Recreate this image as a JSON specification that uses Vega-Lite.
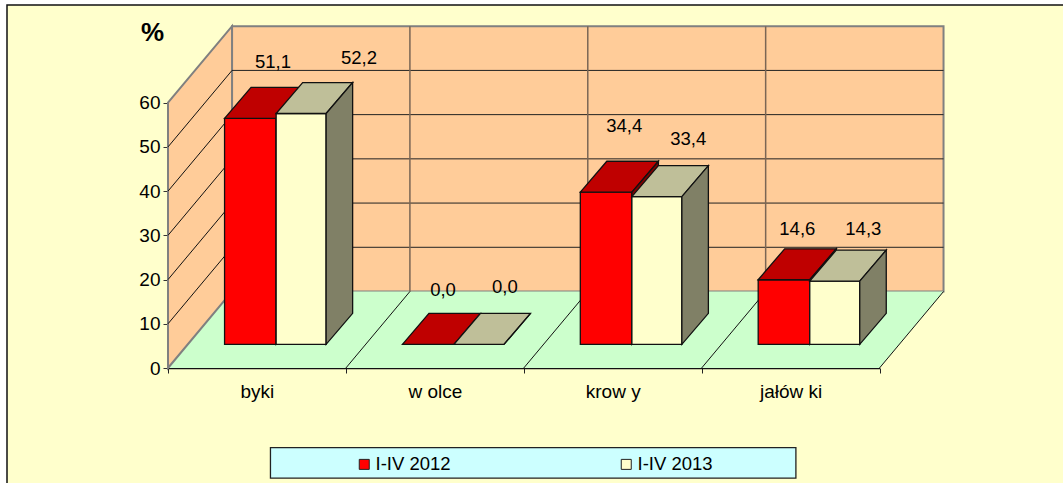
{
"$schema":"https://vega.github.io/schema/vega-lite/v6.json",
"autosize":{"type":"none"},
"width":1057,"height":479,
"padding":{"left":7,"top":5,"right":0,"bottom":0},
"background":"#FFFFFF",
"view":{"fill":"#FFFFCC","stroke":"#111111","strokeWidth":1.5},
"config":{"font":"Liberation Sans"},
"datasets":{
"dane":[
{"kategoria":"byki","etykieta":"byki","seria":"I-IV 2012","wartosc":51.1},
{"kategoria":"byki","etykieta":"byki","seria":"I-IV 2013","wartosc":52.2},
{"kategoria":"wolce","etykieta":"w olce","seria":"I-IV 2012","wartosc":0.0},
{"kategoria":"wolce","etykieta":"w olce","seria":"I-IV 2013","wartosc":0.0},
{"kategoria":"krowy","etykieta":"krow y","seria":"I-IV 2012","wartosc":34.4},
{"kategoria":"krowy","etykieta":"krow y","seria":"I-IV 2013","wartosc":33.4},
{"kategoria":"jałówki","etykieta":"jałów ki","seria":"I-IV 2012","wartosc":14.6},
{"kategoria":"jałówki","etykieta":"jałów ki","seria":"I-IV 2013","wartosc":14.3}
],
"poziomy":[{"p":10},{"p":20},{"p":30},{"p":40},{"p":50},{"p":60}],
"granice":[{"k":1},{"k":2},{"k":3}]
},
"resolve":{"scale":{"x":"independent"}},
"layer":[
{"data":{"values":[{"w":0}]},
 "mark":{"type":"rect","fill":"#FFCC99","stroke":"#808080","strokeWidth":2},
 "encoding":{
  "x":{"datum":0.36,"type":"quantitative","scale":{"domain":[0,4],"range":[161,872.5],"zero":false,"nice":false},"axis":null},
  "x2":{"datum":4.36},
  "y":{"datum":17.3,"type":"quantitative","scale":{"domain":[0,60],"range":[363,97.7],"zero":false,"nice":false},
   "axis":{"title":"%","titleAngle":0,"titleFontSize":26,"titleFontWeight":"bold","titleFont":"Liberation Sans","titleColor":"#000000","titleX":-16,"titleY":27,"titleAlign":"center","titleBaseline":"middle","values":[0,10,20,30,40,50,60],"offset":-161,"grid":false,"domain":false,"tickSize":5,"tickColor":"#333333","labelFontSize":19,"labelFont":"Liberation Sans","labelColor":"#000000","labelPadding":3,"labelOverlap":false,"labelFlush":false}},
  "y2":{"datum":77.3}}},
{"data":{"values":[{"w":0},{"w":1},{"w":2},{"w":3}]},
 "transform":[
  {"calculate":"[0,0.36,4,4.36][datum.w]","as":"gx"},
  {"calculate":"[0,17.3,17.3,17.3][datum.w]","as":"gy"},
  {"calculate":"[0,0,0,17.3][datum.w]","as":"gy2"}],
 "mark":{"type":"area","fill":"#CCFFCC","stroke":null},
 "encoding":{
  "x":{"field":"gx","type":"quantitative","scale":{"domain":[0,4],"range":[161,872.5],"zero":false,"nice":false},"axis":null},
  "y":{"field":"gy","type":"quantitative"},
  "y2":{"field":"gy2"}}},
{"data":{"values":[{"d":0},{"d":1}]},
 "transform":[
  {"calculate":"datum.d*0.36","as":"gx"},
  {"calculate":"datum.d*17.3","as":"gy"},
  {"calculate":"60+datum.d*17.3","as":"gy2"}],
 "mark":{"type":"area","fill":"#FFCC99","stroke":"#808080","strokeWidth":2},
 "encoding":{
  "x":{"field":"gx","type":"quantitative","scale":{"domain":[0,4],"range":[161,872.5],"zero":false,"nice":false},"axis":null},
  "y":{"field":"gy","type":"quantitative"},
  "y2":{"field":"gy2"}}},
{"data":{"name":"poziomy"},
 "transform":[{"filter":"datum.p<60"},{"calculate":"datum.p+17.3","as":"py"}],
 "mark":{"type":"rule","color":"#222222","strokeWidth":1},
 "encoding":{
  "x":{"datum":0.36,"type":"quantitative","scale":{"domain":[0,4],"range":[161,872.5],"zero":false,"nice":false},"axis":null},
  "x2":{"datum":4.36},
  "y":{"field":"py","type":"quantitative"}}},
{"data":{"name":"poziomy"},
 "transform":[{"filter":"datum.p<60"},{"calculate":"datum.p+17.3","as":"py"}],
 "mark":{"type":"rule","color":"#111111","strokeWidth":1},
 "encoding":{
  "x":{"datum":0,"type":"quantitative","scale":{"domain":[0,4],"range":[161,872.5],"zero":false,"nice":false},"axis":null},
  "x2":{"datum":0.36},
  "y":{"field":"p","type":"quantitative"},
  "y2":{"field":"py"}}},
{"data":{"name":"granice"},
 "transform":[{"calculate":"datum.k+0.36","as":"kx"}],
 "mark":{"type":"rule","color":"#7A6655","strokeWidth":1.5},
 "encoding":{
  "x":{"field":"kx","type":"quantitative","scale":{"domain":[0,4],"range":[161,872.5],"zero":false,"nice":false},"axis":null},
  "y":{"datum":17.3,"type":"quantitative"},
  "y2":{"datum":77.3}}},
{"data":{"values":[{"k":1},{"k":2},{"k":3},{"k":4}]},
 "transform":[{"calculate":"datum.k+0.36","as":"kx"}],
 "mark":{"type":"rule","color":"#111111","strokeWidth":1},
 "encoding":{
  "x":{"field":"k","type":"quantitative","scale":{"domain":[0,4],"range":[161,872.5],"zero":false,"nice":false},"axis":null},
  "x2":{"field":"kx"},
  "y":{"datum":0,"type":"quantitative"},
  "y2":{"datum":17.3}}},
{"data":{"name":"dane"},
 "transform":[
  {"calculate":"indexof(['byki','wolce','krowy','jałówki'],datum.kategoria)","as":"c"},
  {"calculate":"datum.seria==='I-IV 2012'?0:1","as":"s"},
  {"calculate":"['przod','gora','bok']","as":"sciana"},
  {"flatten":["sciana"]},
  {"calculate":"[0,1,2,3]","as":"w"},
  {"flatten":["w"]},
  {"filter":"datum.sciana==='gora'||datum.w<2"},
  {"calculate":"datum.c+0.318+datum.s*0.29","as":"x0"},
  {"calculate":"datum.c+0.608+datum.s*0.281","as":"x1"},
  {"calculate":"datum.wartosc+5.36","as":"szczyt"},
  {"calculate":"datum.sciana==='przod'?(datum.w===0?datum.x0:datum.x1):datum.sciana==='bok'?datum.x1+datum.w*0.149:[datum.x0,datum.x0+0.149,datum.x1,datum.x1+0.149][datum.w]","as":"px"},
  {"calculate":"datum.sciana==='przod'?datum.szczyt:datum.sciana==='bok'?datum.szczyt+datum.w*7:[datum.szczyt,datum.szczyt+7,datum.szczyt+7,datum.szczyt+7][datum.w]","as":"yt"},
  {"calculate":"datum.sciana==='przod'?5.36:datum.sciana==='bok'?5.36+datum.w*7:[datum.szczyt,datum.szczyt,datum.szczyt,datum.szczyt+7][datum.w]","as":"yb"},
  {"calculate":"datum.sciana==='przod'?datum.seria:datum.seria+' '+datum.sciana","as":"klucz"},
  {"calculate":"datum.kategoria+' '+datum.seria+' '+datum.sciana","as":"id"}],
 "mark":{"type":"area","stroke":"#111111","strokeWidth":1.3},
 "encoding":{
  "x":{"field":"px","type":"quantitative","scale":{"domain":[0,4],"range":[161,872.5],"zero":false,"nice":false},"axis":null},
  "y":{"field":"yt","type":"quantitative"},
  "y2":{"field":"yb"},
  "detail":{"field":"id"},
  "fill":{"field":"klucz","type":"nominal",
   "scale":{"domain":["I-IV 2012","I-IV 2013","I-IV 2012 gora","I-IV 2013 gora","I-IV 2012 bok","I-IV 2013 bok"],"range":["#FF0000","#FFFFCC","#BF0000","#BFBF99","#800000","#808066"]},
   "legend":{"values":["I-IV 2012","I-IV 2013"],"title":null,"orient":"none","legendX":348,"legendY":450,"columns":2,"columnPadding":166,"symbolType":"square","symbolSize":100,"symbolStrokeColor":"#222222","symbolStrokeWidth":1,"labelFontSize":18.5,"labelFont":"Liberation Sans","labelColor":"#000000","labelOffset":2,"padding":0}}}},
{"data":{"name":"dane"},
 "transform":[
  {"calculate":"indexof(['byki','wolce','krowy','jałówki'],datum.kategoria)","as":"c"},
  {"calculate":"datum.seria==='I-IV 2012'?0:1","as":"s"},
  {"calculate":"datum.c+{'byki':[0.59,1.074],'wolce':[0.546,0.894],'krowy':[0.565,0.925],'jałówki':[0.538,0.909]}[datum.kategoria][datum.s]","as":"lx"},
  {"calculate":"datum.wartosc+{'byki':[18.1,17.9],'wolce':[17.65,18.4],'krowy':[20.35,18.4],'jałówki':[16.85,17.15]}[datum.kategoria][datum.s]","as":"ly"},
  {"calculate":"replace(format(datum.wartosc,'.1f'),'.',',')","as":"opis"}],
 "mark":{"type":"text","fontSize":18.5,"font":"Liberation Sans","color":"#000000","align":"center","baseline":"middle"},
 "encoding":{
  "x":{"field":"lx","type":"quantitative","scale":{"domain":[0,4],"range":[161,872.5],"zero":false,"nice":false},"axis":null},
  "y":{"field":"ly","type":"quantitative"},
  "text":{"field":"opis"}}},
{"data":{"values":[{"w":0}]},
 "mark":{"type":"rect","fill":"#CCFFFF","stroke":"#222222","strokeWidth":1.3},
 "encoding":{
  "x":{"datum":0.576,"type":"quantitative","scale":{"domain":[0,4],"range":[161,872.5],"zero":false,"nice":false},"axis":null},
  "x2":{"datum":3.53},
  "y":{"datum":-18.0,"type":"quantitative"},
  "y2":{"datum":-24.9}}},
{"data":{"name":"dane"},
 "mark":{"type":"text","text":"","opacity":0},
 "encoding":{
  "x":{"field":"etykieta","type":"nominal","sort":null,"scale":{"domain":["byki","w olce","krow y","jałów ki"],"range":[161,872.5],"paddingInner":0,"paddingOuter":0},
   "axis":{"title":null,"offset":-116,"orient":"bottom","labelAngle":0,"tickBand":"extent","tickSize":5,"tickColor":"#222222","domainColor":"#111111","domainWidth":1.3,"labelFontSize":19,"labelFont":"Liberation Sans","labelColor":"#000000","labelPadding":9,"grid":false}},
  "y":{"datum":0,"type":"quantitative"}}}
]
}
